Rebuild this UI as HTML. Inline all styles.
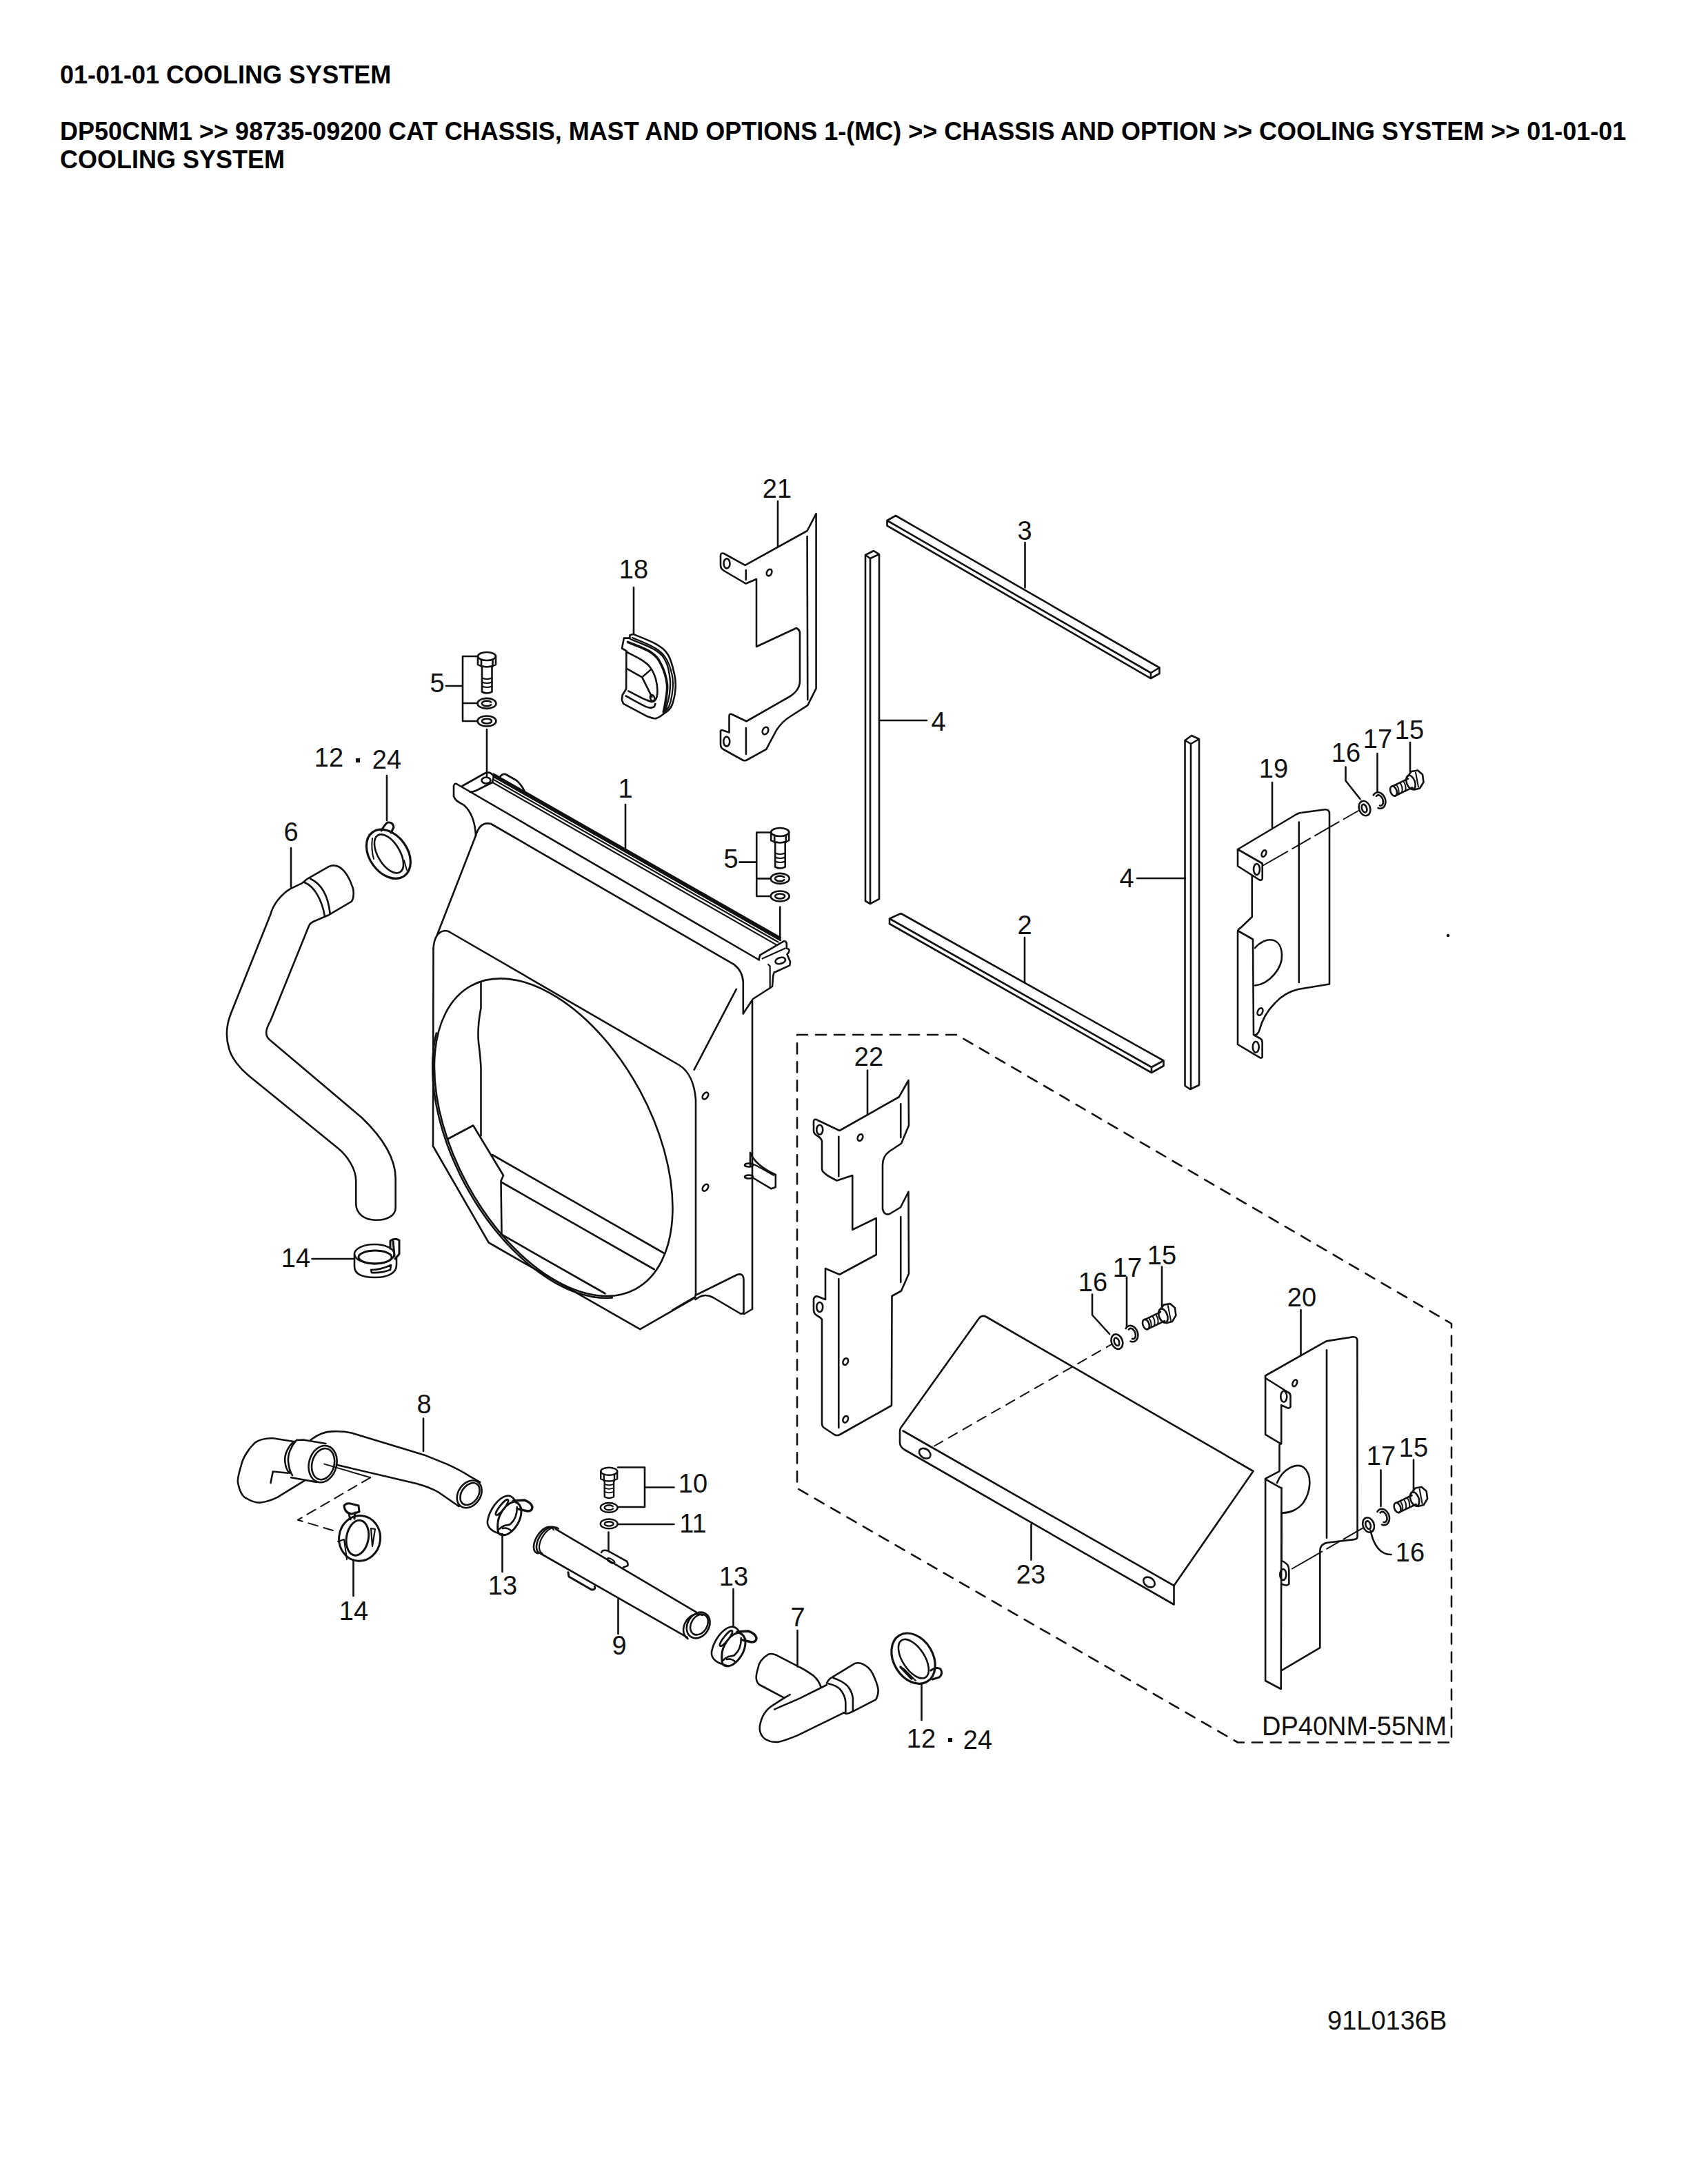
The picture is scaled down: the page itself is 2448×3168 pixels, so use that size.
<!DOCTYPE html>
<html><head><meta charset="utf-8">
<style>
html,body{margin:0;padding:0;background:#fff;}
body{width:2448px;height:3168px;position:relative;overflow:hidden;font-family:"Liberation Sans",sans-serif;}
.h{position:absolute;left:87px;font-weight:bold;font-size:36px;color:#000;white-space:nowrap;line-height:41px;}
svg{position:absolute;left:0;top:0;}
</style></head><body>
<div class="h" style="top:88px;">01-01-01 COOLING SYSTEM</div>
<div class="h" style="top:170px;">DP50CNM1 &gt;&gt; 98735-09200 CAT CHASSIS, MAST AND OPTIONS 1-(MC) &gt;&gt; CHASSIS AND OPTION &gt;&gt; COOLING SYSTEM &gt;&gt; 01-01-01<br>COOLING SYSTEM</div>
<svg width="2448" height="3168" viewBox="0 0 2448 3168" fill="none" stroke="#111" stroke-width="2.6" stroke-linejoin="round" stroke-linecap="round">
<!-- 00_labels.svg -->
<g fill="#111" stroke="none" font-family="'Liberation Sans', sans-serif" font-size="38" text-anchor="middle">
<text x="1127" y="722">21</text>
<text x="919" y="839">18</text>
<text x="1486" y="783">3</text>
<text x="634" y="1004">5</text>
<text x="1361" y="1060">4</text>
<text x="422" y="1220">6</text>
<text x="907" y="1157">1</text>
<text x="1060" y="1259">5</text>
<text x="1847" y="1128">19</text>
<text x="1952" y="1105">16</text>
<text x="1998" y="1085">17</text>
<text x="2044" y="1072">15</text>
<text x="1634" y="1287">4</text>
<text x="1486" y="1355">2</text>
<text x="1260" y="1546">22</text>
<text x="429" y="1838">14</text>
<text x="1585" y="1873">16</text>
<text x="1635" y="1852">17</text>
<text x="1685" y="1834">15</text>
<text x="1888" y="1895">20</text>
<text x="615" y="2050">8</text>
<text x="1005" y="2165">10</text>
<text x="2003" y="2125">17</text>
<text x="2050" y="2113">15</text>
<text x="1005" y="2223">11</text>
<text x="729" y="2313">13</text>
<text x="1064" y="2300">13</text>
<text x="513" y="2350">14</text>
<text x="2045" y="2265">16</text>
<text x="1495" y="2297">23</text>
<text x="898" y="2400">9</text>
<text x="1157" y="2359">7</text>
<text x="1336" y="2535">12</text>
<text x="1418" y="2537">24</text>
<text x="477" y="1112">12</text>
<text x="561" y="1115">24</text>
<text x="1830" y="2517" text-anchor="start">DP40NM-55NM</text>
<text x="1925" y="2944" text-anchor="start">91L0136B</text>
<rect x="516" y="1100" width="6" height="6"/>
<rect x="1375" y="2521" width="6" height="6"/>
</g>

<!-- 01_dashbox.svg -->
<path d="M1156,1501 L1387.5,1501 L2105,1920 L2105,2527.5 L1795,2527.5 L1156,2158.75 Z" stroke-dasharray="15 12"/>

<!-- 02_leaders.svg -->
<path d="M1128,727 V793 M919,852 V920 M1486.5,787 V852.5 M1275,1045 H1344 M1649,1274 H1719 M1486,1360 V1425 M907,1167 V1230 M422,1230 V1287 M561,1125 V1190 M1845,1135 V1200 M1951.5,1112.5 V1132.5 L1972.5,1159 M1997.5,1093 V1147.5 M2045,1077 V1120 M1258,1552.5 V1616 M452.5,1826 H512.5 M614,2057.5 V2105 M1886.5,1900 V1965 M1584,1877.5 V1907.5 L1609,1935 M1634,1852.5 V1925 M1685,1837.5 V1895 M2002.5,2132.5 V2185 M2050,2117.5 V2165 M1987.5,2220 Q1995,2255 2017.5,2255 M896,2128.5 H935 V2186 H896 M935,2157.5 H977.5 M896,2211 H977.5 M882.5,2222.5 V2250 M728.5,2225 V2280 M1063.5,2305 V2360 M512.5,2262.5 V2315 M896.5,2320 V2370 M1156.5,2365 V2417.5 M1336.5,2442.5 V2495 M1495.5,2211 V2262.5 M647,995 H671 M671,952 V1046 M671,952 H692 M671,1020 H692 M671,1046 H692 M706,1058 V1127 M1072.5,1250.6 H1097 M1097.25,1207.5 V1300 M1097.25,1207.5 H1117.5 M1097.25,1274.4 H1117.5 M1097.25,1300 H1117.5 M1131.25,1315.6 V1361"/>

<!-- 10_shroud.svg -->
<path d="M658,1155 L658,1140 Q659,1136 662,1137 L1101,1392.5"/>
<path d="M658,1155 C660,1162 667,1164 673,1168 C684,1178 689,1192 690,1212"/>
<path d="M690,1212 L634,1356"/>
<path d="M690,1212 Q696,1191 712,1195 L1063.9,1398.6 Q1077,1408 1077.8,1425 L1077.8,1470.5"/>
<path d="M628.5,1376 Q630,1352 645,1350 Q650,1350 653,1352.5 L985,1545 Q1006,1558 1009,1595 L1009,1879"/>
<path d="M628.5,1376 L628,1662.5 L708.75,1802.5 L928.3,1928.2 L1008.5,1882.2"/>
<path d="M975,1900 L1008.5,1880.5" stroke-width="2"/>
<path d="M1006.7,1551.6 L1067.8,1434.9"/>
<path d="M1091,1452 L1091,1899 L1079,1906"/>
<path d="M1008.5,1878.9 L1069,1849 Q1078.5,1846 1078.5,1857 L1078.5,1903 Q1077,1907 1073,1905 L1034,1882 Q1023,1876 1013,1882 L1008.5,1885"/>
<path d="M1100.4,1391.9 L1102.3,1385.4 L1136.9,1365.2 Q1140,1365 1140.8,1368 L1140.8,1375.6 L1144,1376.9 Q1146,1380 1141.4,1384.1 L1146,1395.1 L1145.3,1400.4 L1122.5,1410.8 L1121.2,1415.3 L1120,1431 L1092,1449 L1078,1470"/>
<path d="M1105.6,1390.6 L1138.8,1375.6 M1114.1,1399 L1116.7,1401.5 L1116.7,1433.5" stroke-width="2.2"/>
<ellipse cx="1131.7" cy="1393.5" rx="7.5" ry="4.5" transform="rotate(-15 1131.7 1393.5)"/>
<path d="M716,1123.1 L1131.7,1360.3 M716,1126.4 L1131.7,1363.6" stroke-width="3"/>
<path d="M716,1131 L1128.5,1366.5 M714,1134.8 L1125.8,1370.4" stroke-width="2.2"/>
<path d="M725,1127 Q728,1122 733,1123 L749,1132 Q756,1138 761,1148"/>
<path d="M670.6,1140 L702.5,1122 Q711,1118 716,1126 L714,1135 L690,1147 Q685,1149 681,1148.5"/>
<ellipse cx="705" cy="1132" rx="6.5" ry="4.5"/>
<ellipse cx="1023" cy="1589.5" rx="5.5" ry="3.5" transform="rotate(-55 1023 1589.5)"/>
<ellipse cx="1023" cy="1722.7" rx="5.5" ry="3.5" transform="rotate(-55 1023 1722.7)"/>
<path d="M1088,1690 L1088,1672 Q1095,1690 1124.8,1704 L1124.8,1722 L1118.6,1724.3 L1091,1708"/>
<path d="M1091,1688 Q1100,1692 1122,1705" stroke-width="2"/>
<ellipse cx="1086" cy="1690" rx="6" ry="2.5"/><ellipse cx="1086" cy="1707" rx="6" ry="2.5"/>
<ellipse cx="802.7" cy="1649.7" rx="250.2" ry="142.4" transform="rotate(61.6 802.7 1649.7)"/>
<path d="M887.8,1882.4 L881.8,1882.8 L875.6,1882.7 L869.4,1882.4 L863.1,1881.6 L856.6,1880.6 L850.1,1879.1 L843.5,1877.3 L836.9,1875.2 L830.2,1872.8 L823.5,1870.0 L816.7,1866.8 L809.9,1863.3 L803.1,1859.6 L796.3,1855.5 L789.5,1851.0 L782.7,1846.3 L775.9,1841.3 L769.2,1836.0 L762.5,1830.4 L755.9,1824.5 L749.4,1818.4 L742.9,1812.0 L736.6,1805.4 L730.3,1798.5 L724.2,1791.4 L718.1,1784.1 L712.2,1776.6 L706.4,1768.9 L700.8,1761.0 L695.3,1753.0 L690.0,1744.8 L684.9,1736.4 L679.9,1727.9 L675.1,1719.3 L670.5,1710.6 L666.1,1701.8 L662.0,1693.0 L658.0,1684.0 L654.2,1675.1 L650.7,1666.0 L647.4,1657.0 L644.4,1647.9 L641.5,1638.9 L639.0,1629.8 L636.6,1620.8 L634.6,1611.9 L632.7,1603.0 L631.2,1594.1 L629.9,1585.4 L628.8,1576.7 L628.0,1568.2 L627.5,1559.8 L627.3,1551.5 L627.3,1543.4 L627.5,1535.4 L628.1,1527.7 L628.9,1520.1 L630.0,1512.7 L631.3,1505.5 L632.9,1498.5"/>
<path d="M697.5,1426 L697.5,1462 Q692,1490 694,1512 Q697,1535 697.5,1550 L697.5,1647.5"/>
<path d="M648.75,1652.5 L686.25,1632.5 L730,1705 L726.5,1713 L727.5,1789"/>
<path d="M713.75,1675 L962.5,1817.5 M727.5,1715 L948.75,1841.25 M726.25,1790 L877.5,1876.25"/>
<!-- 20_bars.svg -->
<path d="M1286.5,755 L1299,748 L1681.5,968.5 L1681.5,977 L1669,984 L1286.5,762.5 Z M1286.5,755 L1669,976 L1669,984 M1669,976 L1681.5,968.5"/>
<path d="M1290,1332.5 L1306.5,1325 L1687.5,1538.5 L1687.5,1546 L1670,1556 L1290,1340 Z M1290,1332.5 L1670,1548 L1670,1556 M1670,1548 L1687.5,1538.5"/>
<path d="M1255,805 L1267,799 L1275,804 L1275,1304 L1262,1311 L1255,1307 Z M1255,805 L1262,810 L1275,804 M1262,810 L1262,1311"/>
<path d="M1718.5,1074 L1728,1067 L1739,1072 L1739,1574 L1726,1580 L1718.5,1575 Z M1718.5,1074 L1727,1079 L1739,1072 M1727,1079 L1727,1580"/>

<!-- 30_brackets.svg -->
<path d="M1045,806 Q1045,801 1050,803 L1080.6,819.8 L1170.6,770 L1183.6,745.2 L1183.6,998.7 L1171.25,1023.1 L1145,1040 Q1135,1046 1126.25,1058.75 L1111.25,1086.9 L1083,1102.5 Q1080,1104 1077,1102.5 L1050,1087.5 Q1045,1085 1045,1080 L1045,1060 Q1046,1058 1050,1060 L1057.5,1062.5 L1057.5,1038 Q1058,1035 1061,1036 L1082.5,1046.25 L1143.75,1011.25 Q1160,1002 1160,987.5 L1160,917 Q1159,913 1155,911 L1097,938 L1097,840 L1083,846 Q1081,847 1079,845 L1050,828 Q1045,825 1045,820 Z"/>
<path d="M1170.6,778 L1171.25,1015 M1081.8,827 L1081.8,841 M1081.9,1056 L1081.9,1094"/>
<ellipse cx="1115.6" cy="830.5" rx="3.5" ry="5" transform="rotate(25 1115.6 830.5)"/>
<ellipse cx="1054" cy="817.4" rx="4.5" ry="7"/>
<ellipse cx="1110" cy="1060" rx="4" ry="5.5" transform="rotate(25 1110 1060)"/>
<ellipse cx="1053.75" cy="1075.6" rx="4.5" ry="7"/>
<path d="M1180,1626 Q1181,1622 1186,1625 L1217.5,1640 L1303.75,1591.25 L1317.5,1567 L1318,1632.5 L1307,1658.75 L1290,1670 Q1280,1677 1280,1690 L1280,1753.75 Q1282,1763 1290,1761 L1306,1751.25 L1317.5,1728.75 L1318,1847.5 L1307,1872.5 L1293.5,1880 L1293,2038.75 L1217.5,2081.25 Q1214,2083 1210,2081 L1195,2071 Q1192,2069 1192,2065 L1192,1913.75 Q1190,1911 1186,1909 Q1180,1906 1180,1900 L1180,1884 Q1182,1879 1187,1881 L1197,1885 L1197,1840 L1217.5,1848.75 L1270.75,1820 L1270.75,1767 L1236.25,1783.75 L1236.25,1705 L1213.75,1712.5 Q1200,1706 1195,1701 Q1192,1699 1192,1695 L1192,1655 Q1190,1650 1186,1648 Q1180,1645 1180,1640 Z"/>
<path d="M1216.25,1648.75 V1706.25 M1306.25,1601.25 V1650 M1306.25,1765 V1860 M1216.25,1855 V2071"/>
<ellipse cx="1247.5" cy="1650" rx="3.5" ry="5" transform="rotate(25 1247.5 1650)"/>
<ellipse cx="1188.75" cy="1638.75" rx="4.5" ry="7"/>
<ellipse cx="1188.75" cy="1896" rx="4.5" ry="7"/>
<ellipse cx="1226.25" cy="1975" rx="3.5" ry="5" transform="rotate(25 1226.25 1975)"/>
<ellipse cx="1226.25" cy="2058.75" rx="3.5" ry="5" transform="rotate(25 1226.25 2058.75)"/>
<path d="M1795,1232 L1880,1181.25 Q1884,1179 1888,1178.75 L1921.25,1174.25 Q1928,1174 1928,1180 L1928,1427.5 L1882.5,1435 C1870,1438 1858,1445 1849,1455 C1838,1466 1830,1480 1826.25,1495 Q1824,1501 1818.75,1501.5 L1827.5,1506.25 Q1830.6,1508 1830.6,1512 L1830.6,1533.75 Q1829,1535 1827.5,1534.4 L1795,1515 L1795,1352.5 Q1795,1348 1799,1346 L1815.75,1330 L1815.75,1270"/>
<path d="M1795,1232 L1795,1256.25 L1826.25,1276.25 Q1830.75,1278 1830.75,1273 L1830.75,1252.5 Z"/>
<path d="M1795,1350 L1817,1362.5 L1818,1501"/>
<path d="M1820,1375 C1835,1358 1858,1358 1859,1385 C1860,1405 1840,1428 1820,1429.5"/>
<path d="M1883.75,1192.5 V1425"/>
<ellipse cx="1833" cy="1238" rx="3" ry="5" transform="rotate(25 1833 1238)"/>
<ellipse cx="1822.5" cy="1261" rx="4.5" ry="8"/>
<ellipse cx="1827.5" cy="1467.5" rx="3.5" ry="5.5" transform="rotate(25 1827.5 1467.5)"/>
<ellipse cx="1821.25" cy="1518.75" rx="4.5" ry="8"/>
<path d="M1832.5,1255 L1970,1176" stroke-width="2" stroke-dasharray="40 8 30 8"/>
<circle cx="2100" cy="1357" r="1" fill="#111"/>
<path d="M1835.1,1995.5 L1921.3,1946.7 Q1924,1945 1926.6,1944.9 L1962.2,1939.2 Q1968.4,1939 1968.4,1945 L1968.6,2229.3 Q1968,2233 1963.3,2233.1 L1924.7,2237.8 Q1914.3,2240 1914.3,2250 L1914.3,2390.2 L1859.3,2422.6"/>
<path d="M1835.1,1995.5 L1835.1,2080.8 L1857.3,2094.2 L1855.5,2096 L1855.5,2134.1 L1835.1,2144.8 L1835.1,2438 L1857.7,2450 L1858.5,2158"/>
<path d="M1835.1,1999 L1868,2019.5 Q1871.5,2021 1871.5,2025 L1871.5,2040.8 Q1870,2043 1868,2042.6 L1858.2,2038.2 L1858.2,2094.2"/>
<path d="M1835.1,2145.7 L1857.3,2158.1"/>
<path d="M1852,2151 C1860,2130 1880,2122 1890,2128 C1903,2138 1902,2162 1890,2180 C1882,2190 1870,2195 1858.5,2194.6"/>
<path d="M1858.5,2194.6 L1858.5,2263.9 Q1869.3,2268 1869.3,2277 L1869.3,2297.8 Q1867,2301 1858.5,2297.8"/>
<path d="M1924,1958.2 V2230.8"/>
<ellipse cx="1877.8" cy="2006.2" rx="3" ry="5" transform="rotate(25 1877.8 2006.2)"/>
<ellipse cx="1861.8" cy="2025.7" rx="4.5" ry="8"/>
<ellipse cx="1860.8" cy="2284" rx="4.5" ry="8"/>
<path d="M1873.9,2275.5 L1977.1,2216.2" stroke-width="2" stroke-dasharray="50 8 20 8"/>
<path d="M1306.25,2071.25 L1420,1912 Q1424,1907 1430,1910 L1817.5,2134 L1702.5,2300 L1702.5,2327.5 L1312,2103 Q1305,2099 1305,2092 L1305,2077 Q1305,2073 1306.25,2071.25 Z"/>
<path d="M1309.5,2075.5 L1702.5,2300"/>
<ellipse cx="1341.25" cy="2108.25" rx="6.5" ry="9" transform="rotate(-55 1341.25 2108.25)"/>
<ellipse cx="1666.5" cy="2295" rx="6.5" ry="9" transform="rotate(-55 1666.5 2295)"/>
<path d="M1355,2097.5 L1612,1950" stroke-width="2" stroke-dasharray="14 10"/>
<!-- 40_small.svg -->
<g transform="translate(1979.0,1172.5)"><ellipse cx="0" cy="0" rx="8" ry="11" transform="rotate(-20)"/><ellipse cx="-0.5" cy="0" rx="3.5" ry="6" transform="rotate(-20)"/><path d="M12.8,-19.0 L13.5,-20.2 L14.4,-21.2 L15.5,-22.1 L16.7,-22.7 L17.9,-23.1 L19.2,-23.2 L20.6,-23.1 L21.9,-22.7 L23.3,-22.1 L24.6,-21.3 L25.8,-20.3 L26.9,-19.1 L27.9,-17.7 L28.8,-16.2 L29.5,-14.6 L30.0,-12.9 L30.3,-11.2 L30.4,-9.5 L30.3,-7.9 L30.0,-6.3 L29.6,-4.8 L28.9,-3.5 L28.1,-2.4 L27.2,-1.4 L26.1,-0.7 L24.9,-0.1 L23.6,0.1 L22.2,0.2 L20.9,-0.0 L19.5,-0.5"/><path d="M17.0,-17.6 L17.6,-18.3 L18.3,-18.8 L19.1,-19.1 L19.9,-19.2 L20.8,-19.1 L21.7,-18.8 L22.6,-18.2 L23.5,-17.5 L24.3,-16.6 L25.0,-15.6 L25.7,-14.4 L26.2,-13.2 L26.6,-11.9 L26.8,-10.6 L26.9,-9.4 L26.9,-8.2 L26.7,-7.1 L26.3,-6.1 L25.8,-5.2 L25.2,-4.6 L24.5,-4.1 L23.7,-3.8 L22.9,-3.8 L22.0,-4.0"/><ellipse cx="42" cy="-25" rx="4.5" ry="7.5" transform="rotate(-20 42 -25)"/><path d="M40.5,-32 L63,-43 M44,-18 L69,-30"/><path d="M47,-33 Q51,-27 49,-20 M52,-36 Q56,-30 54,-23 M57,-38 Q61,-32 59,-25" stroke-width="2"/><path d="M62,-46 L68,-53.5 L77,-55 L84,-49 L85.5,-38 L80,-29 L72,-27 L66,-29"/><ellipse cx="67" cy="-37.6" rx="6" ry="10.5" transform="rotate(-20 67 -37.6)"/><path d="M74,-52 L78,-31" stroke-width="2"/></g>
<g transform="translate(1619.9,1946.1)"><ellipse cx="0" cy="0" rx="8" ry="11" transform="rotate(-20)"/><ellipse cx="-0.5" cy="0" rx="3.5" ry="6" transform="rotate(-20)"/><path d="M12.8,-19.0 L13.5,-20.2 L14.4,-21.2 L15.5,-22.1 L16.7,-22.7 L17.9,-23.1 L19.2,-23.2 L20.6,-23.1 L21.9,-22.7 L23.3,-22.1 L24.6,-21.3 L25.8,-20.3 L26.9,-19.1 L27.9,-17.7 L28.8,-16.2 L29.5,-14.6 L30.0,-12.9 L30.3,-11.2 L30.4,-9.5 L30.3,-7.9 L30.0,-6.3 L29.6,-4.8 L28.9,-3.5 L28.1,-2.4 L27.2,-1.4 L26.1,-0.7 L24.9,-0.1 L23.6,0.1 L22.2,0.2 L20.9,-0.0 L19.5,-0.5"/><path d="M17.0,-17.6 L17.6,-18.3 L18.3,-18.8 L19.1,-19.1 L19.9,-19.2 L20.8,-19.1 L21.7,-18.8 L22.6,-18.2 L23.5,-17.5 L24.3,-16.6 L25.0,-15.6 L25.7,-14.4 L26.2,-13.2 L26.6,-11.9 L26.8,-10.6 L26.9,-9.4 L26.9,-8.2 L26.7,-7.1 L26.3,-6.1 L25.8,-5.2 L25.2,-4.6 L24.5,-4.1 L23.7,-3.8 L22.9,-3.8 L22.0,-4.0"/><ellipse cx="42" cy="-25" rx="4.5" ry="7.5" transform="rotate(-20 42 -25)"/><path d="M40.5,-32 L63,-43 M44,-18 L69,-30"/><path d="M47,-33 Q51,-27 49,-20 M52,-36 Q56,-30 54,-23 M57,-38 Q61,-32 59,-25" stroke-width="2"/><path d="M62,-46 L68,-53.5 L77,-55 L84,-49 L85.5,-38 L80,-29 L72,-27 L66,-29"/><ellipse cx="67" cy="-37.6" rx="6" ry="10.5" transform="rotate(-20 67 -37.6)"/><path d="M74,-52 L78,-31" stroke-width="2"/></g>
<g transform="translate(1984.6,2212.0)"><ellipse cx="0" cy="0" rx="8" ry="11" transform="rotate(-20)"/><ellipse cx="-0.5" cy="0" rx="3.5" ry="6" transform="rotate(-20)"/><path d="M12.8,-19.0 L13.5,-20.2 L14.4,-21.2 L15.5,-22.1 L16.7,-22.7 L17.9,-23.1 L19.2,-23.2 L20.6,-23.1 L21.9,-22.7 L23.3,-22.1 L24.6,-21.3 L25.8,-20.3 L26.9,-19.1 L27.9,-17.7 L28.8,-16.2 L29.5,-14.6 L30.0,-12.9 L30.3,-11.2 L30.4,-9.5 L30.3,-7.9 L30.0,-6.3 L29.6,-4.8 L28.9,-3.5 L28.1,-2.4 L27.2,-1.4 L26.1,-0.7 L24.9,-0.1 L23.6,0.1 L22.2,0.2 L20.9,-0.0 L19.5,-0.5"/><path d="M17.0,-17.6 L17.6,-18.3 L18.3,-18.8 L19.1,-19.1 L19.9,-19.2 L20.8,-19.1 L21.7,-18.8 L22.6,-18.2 L23.5,-17.5 L24.3,-16.6 L25.0,-15.6 L25.7,-14.4 L26.2,-13.2 L26.6,-11.9 L26.8,-10.6 L26.9,-9.4 L26.9,-8.2 L26.7,-7.1 L26.3,-6.1 L25.8,-5.2 L25.2,-4.6 L24.5,-4.1 L23.7,-3.8 L22.9,-3.8 L22.0,-4.0"/><ellipse cx="42" cy="-25" rx="4.5" ry="7.5" transform="rotate(-20 42 -25)"/><path d="M40.5,-32 L63,-43 M44,-18 L69,-30"/><path d="M47,-33 Q51,-27 49,-20 M52,-36 Q56,-30 54,-23 M57,-38 Q61,-32 59,-25" stroke-width="2"/><path d="M62,-46 L68,-53.5 L77,-55 L84,-49 L85.5,-38 L80,-29 L72,-27 L66,-29"/><ellipse cx="67" cy="-37.6" rx="6" ry="10.5" transform="rotate(-20 67 -37.6)"/><path d="M74,-52 L78,-31" stroke-width="2"/></g>
<g transform="translate(706.0,1046.0) scale(1.00)"><ellipse cx="0" cy="0" rx="13.5" ry="7.5"/><ellipse cx="0" cy="0" rx="7" ry="3.5"/><ellipse cx="0" cy="-25.6" rx="13.5" ry="7.5"/><path d="M6.1,-23.7 L5.4,-23.2 L4.5,-22.7 L3.5,-22.3 L2.4,-22.0 L1.2,-21.9 L0.0,-21.8 L-1.2,-21.9 L-2.4,-22.0 L-3.5,-22.3 L-4.5,-22.7 L-5.4,-23.2 L-6.1,-23.7 L-6.6,-24.3 L-6.9,-24.9 L-7.0,-25.6 L-6.9,-26.3 L-6.6,-26.9 L-6.1,-27.5 L-5.4,-28.0 L-4.5,-28.5 L-3.5,-28.9 L-2.4,-29.2 L-1.2,-29.3 L-0.0,-29.4 L1.2,-29.3 L2.4,-29.2 L3.5,-28.9 L4.5,-28.5 L5.4,-28.0 L6.1,-27.5"/><path d="M-7,-78.0 L-7,-42.5 Q0,-38.5 7.5,-42.5 L7.5,-78.0"/><path d="M-7,-50.5 Q0,-47.5 7.5,-50.5" stroke-width="2"/><path d="M-7,-56.5 Q0,-53.5 7.5,-56.5" stroke-width="2"/><path d="M-7,-62.5 Q0,-59.5 7.5,-62.5" stroke-width="2"/><ellipse cx="0" cy="-94.0" rx="13" ry="6"/><path d="M-13,-94.0 L-13,-82.0 Q0,-75.0 13,-82.0 L13,-94.0 M-8,-89.0 L-8,-79.0 M8.5,-89.0 L8.5,-79.0"/></g>
<g transform="translate(1131.2,1300.0) scale(1.00)"><ellipse cx="0" cy="0" rx="13.5" ry="7.5"/><ellipse cx="0" cy="0" rx="7" ry="3.5"/><ellipse cx="0" cy="-25.6" rx="13.5" ry="7.5"/><path d="M6.1,-23.7 L5.4,-23.2 L4.5,-22.7 L3.5,-22.3 L2.4,-22.0 L1.2,-21.9 L0.0,-21.8 L-1.2,-21.9 L-2.4,-22.0 L-3.5,-22.3 L-4.5,-22.7 L-5.4,-23.2 L-6.1,-23.7 L-6.6,-24.3 L-6.9,-24.9 L-7.0,-25.6 L-6.9,-26.3 L-6.6,-26.9 L-6.1,-27.5 L-5.4,-28.0 L-4.5,-28.5 L-3.5,-28.9 L-2.4,-29.2 L-1.2,-29.3 L-0.0,-29.4 L1.2,-29.3 L2.4,-29.2 L3.5,-28.9 L4.5,-28.5 L5.4,-28.0 L6.1,-27.5"/><path d="M-7,-77.0 L-7,-42.5 Q0,-38.5 7.5,-42.5 L7.5,-77.0"/><path d="M-7,-50.5 Q0,-47.5 7.5,-50.5" stroke-width="2"/><path d="M-7,-56.5 Q0,-53.5 7.5,-56.5" stroke-width="2"/><path d="M-7,-62.5 Q0,-59.5 7.5,-62.5" stroke-width="2"/><ellipse cx="0" cy="-93.0" rx="13" ry="6"/><path d="M-13,-93.0 L-13,-81.0 Q0,-74.0 13,-81.0 L13,-93.0 M-8,-88.0 L-8,-78.0 M8.5,-88.0 L8.5,-78.0"/></g>
<g transform="translate(883.2,2210.4) scale(0.92)"><ellipse cx="0" cy="0" rx="13.5" ry="7.5"/><ellipse cx="0" cy="0" rx="7" ry="3.5"/><ellipse cx="0" cy="-25.6" rx="13.5" ry="7.5"/><path d="M6.1,-23.7 L5.4,-23.2 L4.5,-22.7 L3.5,-22.3 L2.4,-22.0 L1.2,-21.9 L0.0,-21.8 L-1.2,-21.9 L-2.4,-22.0 L-3.5,-22.3 L-4.5,-22.7 L-5.4,-23.2 L-6.1,-23.7 L-6.6,-24.3 L-6.9,-24.9 L-7.0,-25.6 L-6.9,-26.3 L-6.6,-26.9 L-6.1,-27.5 L-5.4,-28.0 L-4.5,-28.5 L-3.5,-28.9 L-2.4,-29.2 L-1.2,-29.3 L-0.0,-29.4 L1.2,-29.3 L2.4,-29.2 L3.5,-28.9 L4.5,-28.5 L5.4,-28.0 L6.1,-27.5"/><path d="M-7,-66.8 L-7,-42.5 Q0,-38.5 7.5,-42.5 L7.5,-66.8"/><path d="M-7,-50.5 Q0,-47.5 7.5,-50.5" stroke-width="2"/><path d="M-7,-56.5 Q0,-53.5 7.5,-56.5" stroke-width="2"/><path d="M-7,-62.5 Q0,-59.5 7.5,-62.5" stroke-width="2"/><ellipse cx="0" cy="-82.8" rx="13" ry="6"/><path d="M-13,-82.8 L-13,-70.8 Q0,-63.8 13,-70.8 L13,-82.8 M-8,-77.8 L-8,-67.8 M8.5,-77.8 L8.5,-67.8"/></g>
<ellipse cx="563.4" cy="1238.8" rx="39.2" ry="27.4" transform="rotate(54 563.4 1238.8)" stroke-width="3.2"/>
<ellipse cx="564" cy="1238.4" rx="31.2" ry="15.9" transform="rotate(59 564 1238.4)"/>
<path d="M553,1205 Q558,1196 562,1193 Q570,1192 571,1200 L567,1208" stroke-width="3"/>
<path d="M540,1216 Q538,1232 542,1246" stroke-width="2"/>
<path d="M586,1248 L590,1262" stroke-width="2"/>
<ellipse cx="1324.5" cy="2405.7" rx="39.1" ry="28.5" transform="rotate(59 1324.5 2405.7)" stroke-width="3.2"/>
<ellipse cx="1324.9" cy="2406.2" rx="32" ry="16" transform="rotate(57 1324.9 2406.2)"/>
<path d="M1306,2418 L1322,2435" stroke-width="3.5"/>
<path d="M1350,2423 Q1358,2417 1364,2421 Q1368,2428 1362,2433 L1352,2436" stroke-width="3"/>
<path d="M1310,2420 L1328,2438" stroke-width="2"/>
<path d="M514,1820 L514,1837 C514,1850 530,1853 544,1853 C560,1853 575,1848 575,1835 L575,1825"/>
<ellipse cx="543" cy="1819" rx="29" ry="14"/>
<ellipse cx="544" cy="1823.5" rx="24" ry="9.5" stroke-width="3"/>
<path d="M538,1842 Q552,1842 567,1835 L566,1842 Q552,1847 539,1846 Z"/>
<path d="M566,1811 L566,1800 Q572,1795 579,1799 L579,1819 L573,1826 M570,1800 L572,1822" stroke-width="3"/>
<ellipse cx="521.6" cy="2231.4" rx="29.95" ry="32.9" transform="rotate(6.4 521.6 2231.4)" stroke-width="3"/>
<ellipse cx="518.4" cy="2230.7" rx="15.9" ry="25.7" transform="rotate(10.4 518.4 2230.7)" stroke-width="3"/>
<path d="M499,2184 Q502,2180 508,2181 L520,2184 L521,2193 L510,2196 Q500,2195 499,2184 Z M506,2196 L508,2204 M515,2194 L514,2203" stroke-width="3"/>
<path d="M538,2217 L544,2218 L540,2243 Z" stroke-width="2.2"/>
<path d="M490,2236 L499,2233 L503,2262" stroke-width="2"/>
<g transform="translate(0.0,0.0)"><path d="M746,2175 C742,2170 738,2169 734,2170 C722,2173 710,2190 707,2206 C706,2214 712,2221 723,2224 L731.5,2227"/><path d="M746,2178 C752,2180 756,2185 756,2192 C756,2205 748,2218 737,2225 C731,2228 725,2227 723,2224 C721,2218 721,2205 725.5,2197 C730,2187 738,2180 746,2178 Z" stroke-width="3"/><path d="M749.8,2186 C750,2195 747,2205 740,2211 C736,2213 733,2212 731.5,2213 C727,2215 725,2217 724,2218"/><ellipse cx="728" cy="2186.5" rx="14" ry="3.5" transform="rotate(-52 728 2186.5)"/><path d="M744,2177 L760,2176 Q770,2179 772,2186 Q772,2192 765,2192 L752,2189" stroke-width="3.4"/><path d="M729,2217 Q735,2215 741,2220" stroke-width="2.4"/></g>
<g transform="translate(325.0,190.0)"><path d="M746,2175 C742,2170 738,2169 734,2170 C722,2173 710,2190 707,2206 C706,2214 712,2221 723,2224 L731.5,2227"/><path d="M746,2178 C752,2180 756,2185 756,2192 C756,2205 748,2218 737,2225 C731,2228 725,2227 723,2224 C721,2218 721,2205 725.5,2197 C730,2187 738,2180 746,2178 Z" stroke-width="3"/><path d="M749.8,2186 C750,2195 747,2205 740,2211 C736,2213 733,2212 731.5,2213 C727,2215 725,2217 724,2218"/><ellipse cx="728" cy="2186.5" rx="14" ry="3.5" transform="rotate(-52 728 2186.5)"/><path d="M744,2177 L760,2176 Q770,2179 772,2186 Q772,2192 765,2192 L752,2189" stroke-width="3.4"/><path d="M729,2217 Q735,2215 741,2220" stroke-width="2.4"/></g>
<!-- 50_hoses.svg -->
<path d="M420.9,1289.3 C408,1297 396,1312 392.4,1326.3 L334.9,1470 C327,1490 328,1508 332.3,1521.5 C336,1535 348,1550 361.5,1561 L490.4,1665.8 C503,1676 516,1695 516.2,1712 L516.2,1744.9 C516,1762 530,1770 545.4,1769.8 C560,1770 574,1764 573.7,1751.7 L573.7,1710.5 C574,1685 560,1655 524.7,1621.2 L392.5,1509.5 C384,1503 384,1495 392.5,1480.3 L447.9,1343.2 C450,1339 452,1338 454,1337 L475.6,1327.8 L509.5,1307.8 C514,1303 513,1290 511,1286.2 C505,1268 495,1256 484.8,1255.4 C481,1255 479,1256 477.1,1256.9 L444.8,1275.4 L438.6,1280.8 L420.9,1289.3 Z"/>
<path d="M441.7,1280 C456,1286 467,1305 471,1329.3 M450.2,1274.7 C466,1282 476,1300 478.7,1325.5"/>
<path d="M424.3,2090.7 L395.8,2086.3 C385,2086 375,2089 369.5,2092.9 C360,2102 352,2115 349.7,2125.8 C346,2138 344,2148 345.3,2152.1 C348,2165 352,2172 358.5,2174 C365,2178 372,2180 378.2,2179.5 C388,2178 396,2175 402.3,2171.8 L441.8,2147.7"/>
<path d="M395.8,2134.5 L417.7,2136.7 M395.8,2134.5 L392.5,2151"/>
<path d="M426.4,2090.7 C418,2098 412,2110 413.3,2120 C414,2128 416,2133 419.9,2136.7 M430,2089 C422,2098 417,2110 418,2120 C419,2130 421,2136 424,2140"/>
<path d="M430,2089 L439.6,2088.5 L472.5,2094 M422.1,2143.3 L459.3,2149.9"/>
<ellipse cx="468.1" cy="2123.6" rx="20" ry="27" transform="rotate(15 468.1 2123.6)"/>
<ellipse cx="468.6" cy="2123.6" rx="16" ry="23" transform="rotate(15 468.6 2123.6)"/>
<path d="M450.6,2088.5 C462,2080 472,2076 483.4,2076.4 C495,2076 503,2077 509.7,2078.6 L615,2110.4 L647.8,2123.6 C662,2130 673,2136 680.7,2141.1 L696.1,2149.9"/>
<path d="M487.8,2124.7 L604,2152.1 C618,2156 628,2160 636.9,2165.2 L665.4,2185"/>
<ellipse cx="680.7" cy="2167.4" rx="16" ry="21.5" transform="rotate(35 680.7 2167.4)"/>
<ellipse cx="681.5" cy="2167" rx="12" ry="17.5" transform="rotate(35 681.5 2167)"/>
<path d="M470.3,2123.6 L537.1,2143.3" stroke-width="2"/>
<path d="M537.1,2143.3 L431.9,2204.7 L490,2222.2" stroke-width="2" stroke-dasharray="14 9"/>
<path d="M806.4,2218.4 L1009.5,2338.3 M784,2253.5 L996.7,2375.1"/>
<path d="M780.5,2253.2 L779.0,2252.9 L777.7,2252.3 L776.6,2251.4 L775.6,2250.3 L774.9,2248.9 L774.4,2247.2 L774.1,2245.4 L774.0,2243.4 L774.2,2241.2 L774.6,2238.9 L775.2,2236.6 L776.1,2234.2 L777.1,2231.8 L778.4,2229.4 L779.8,2227.1 L781.3,2224.9 L783.0,2222.9 L784.7,2221.0 L786.6,2219.3 L788.4,2217.9 L790.3,2216.7 L792.1,2215.8 L793.9,2215.2 L795.7,2214.8 L797.3,2214.8 L798.8,2215.1 L800.1,2215.6 L801.3,2216.5 L802.3,2217.6 L803.0,2219.0"/>
<path d="M783.5,2253.0 L782.2,2252.5 L781.0,2251.8 L780.0,2250.8 L779.2,2249.6 L778.6,2248.1 L778.2,2246.5 L778.0,2244.7 L778.0,2242.7 L778.3,2240.6 L778.7,2238.4 L779.4,2236.1 L780.2,2233.8 L781.2,2231.6 L782.4,2229.3 L783.8,2227.1 L785.2,2225.0 L786.8,2223.1 L788.5,2221.3 L790.2,2219.6 L792.0,2218.2 L793.8,2217.0 L795.5,2216.1 L797.3,2215.4 L799.0,2214.9 L800.6,2214.8 L802.0,2214.9 L803.4,2215.3 L804.6,2215.9 L805.7,2216.8 L806.5,2218.0"/>
<path d="M786.5,2253.2 L785.4,2252.6 L784.4,2251.7 L783.5,2250.6 L782.9,2249.3 L782.4,2247.9 L782.1,2246.2 L782.0,2244.4 L782.1,2242.5 L782.4,2240.4 L782.9,2238.3 L783.5,2236.2 L784.3,2234.0 L785.3,2231.8 L786.5,2229.7 L787.8,2227.6 L789.1,2225.6 L790.6,2223.8 L792.2,2222.0 L793.9,2220.4 L795.5,2219.0 L797.2,2217.9 L798.9,2216.9 L800.6,2216.1 L802.2,2215.6 L803.8,2215.3 L805.3,2215.3 L806.6,2215.5 L807.9,2216.0 L809.0,2216.7 L809.9,2217.6" stroke-width="2.2"/>
<ellipse cx="1012.7" cy="2357.5" rx="15.5" ry="20" transform="rotate(32 1012.7 2357.5)"/>
<ellipse cx="1014" cy="2356.5" rx="11.5" ry="16" transform="rotate(32 1014 2356.5)"/>
<path d="M997.4,2377.0 L995.8,2375.7 L994.4,2374.3 L993.2,2372.5 L992.2,2370.6 L991.6,2368.5 L991.2,2366.2 L991.1,2363.8 L991.3,2361.4 L991.8,2358.9 L992.6,2356.5 L993.6,2354.1 L994.9,2351.8 L996.4,2349.6 L998.0,2347.7 L999.9,2345.9 L1001.9,2344.4 L1004.0,2343.2 L1006.2,2342.2 L1008.4,2341.5 L1010.6,2341.2 L1012.8,2341.2 L1014.8,2341.5 L1016.8,2342.1 L1018.6,2343.0"/>
<path d="M872,2252 Q874,2247 881.6,2249.6 L908.8,2264.7 Q911,2267 910.4,2271.1 L904,2273.5"/>
<path d="M824,2280.7 L825,2287 L858,2306 Q864,2306 862.4,2301.5" stroke-width="3"/>
<ellipse cx="886" cy="2264" rx="6" ry="2.5" transform="rotate(30 886 2264)" stroke-width="2"/>
<path d="M1125.5,2400.7 L1156.4,2416.7 C1168,2422 1176,2428 1180,2430.9 C1186,2436 1189,2442 1190.7,2447.5"/>
<path d="M1125.5,2400.7 C1120,2398 1115,2399 1113.7,2400.1 C1105,2405 1100,2413 1099.5,2419.1 C1097,2427 1096,2433 1097.1,2436.9 C1098,2440 1100,2443 1101.8,2444 L1137.4,2462.9 L1145.7,2458.2"/>
<path d="M1137.4,2462.9 L1120.8,2473.6 C1110,2480 1104,2490 1101.8,2504.4 C1101,2514 1106,2522 1113.7,2524.5 C1118,2527 1123,2527 1127.9,2526.9 C1135,2526 1145,2522 1156.4,2517.4 L1223.9,2484.3"/>
<path d="M1123.2,2479.5 C1135,2474 1148,2469 1161.1,2462.9 L1199,2444"/>
<path d="M1199,2441.6 C1201,2437 1203,2435 1206.1,2433.3 L1239.3,2413.2 C1242,2412 1246,2412 1250,2413.2 C1257,2416 1262,2421 1265.4,2427.4 C1270,2437 1273,2445 1273.6,2451.1 C1274,2458 1272,2462 1270.1,2465.3 L1238.1,2481.9 C1232,2485 1228,2486 1226.3,2485.5 L1223.9,2484.3"/>
<path d="M1201.4,2442.2 C1210,2444 1215,2447 1218,2449.9 C1223,2456 1226,2462 1226.3,2468.9 L1226.3,2483.1 M1208.5,2433.9 C1218,2437 1225,2441 1229.8,2446.4 C1234,2452 1236,2457 1236.9,2462.9 L1236.9,2481.9"/>
<path d="M913.4,921.3 L913.4,925.6 L904.9,925.6 L902.0,940.5 L908.4,944.1 L908.1,999.5 L902.7,1008.0  C902.6,1009.2 901.8,1013.0 902.0,1015.1 C902.3,1017.3 903.8,1019.9 904.2,1020.8 L939.0,1039.3 C941.0,1039.8 947.0,1042.9 951.1,1042.1 C955.1,1041.4 959.4,1038.0 963.2,1035.0 C966.9,1032.1 971.1,1030.3 973.8,1024.4 C976.5,1018.5 978.8,1007.2 979.5,999.5 C980.2,991.8 979.9,986.5 978.1,978.2 C976.3,969.9 973.3,957.1 968.8,949.8 C964.3,942.4 959.5,939.1 951.1,934.1 C942.7,929.1 923.8,922.3 918.4,919.9 Z"/>
<path d="M917.0,924.9 C922.4,927.4 941.6,934.9 949.7,939.8 C957.7,944.7 961.1,947.6 965.3,954.0 C969.4,960.4 972.8,970.6 974.5,978.2 C976.2,985.8 976.3,991.8 975.6,999.5 C974.9,1007.2 972.6,1018.7 970.3,1024.4 C968.0,1030.1 963.2,1032.1 961.7,1033.6" stroke-width="2.2"/>
<path d="M914.1,927.0 C920.3,929.7 942.4,937.8 951.1,943.4 C959.7,948.9 962.6,953.4 966.0,960.4 C969.4,967.4 970.9,977.6 971.7,985.3 C972.5,993.0 972.0,999.1 971.0,1006.6 C969.9,1014.1 966.2,1026.2 965.3,1030.1" stroke-width="2.4"/>
<path d="M910.6,931.3 C916.1,933.8 935.9,940.7 944.0,946.2 C952.0,951.6 955.0,956.3 958.9,964.0 C962.8,971.7 966.4,983.5 967.4,992.4 C968.5,1001.3 966.1,1010.6 965.3,1017.3 C964.5,1023.9 962.9,1029.7 962.4,1032.2" stroke-width="3.6"/>
<path d="M908.4,945.5 C912.0,947.4 924.1,953.2 929.8,956.9 C935.4,960.5 939.0,962.8 942.5,967.5 C946.1,972.3 949.3,978.8 951.1,985.3 C952.9,991.8 953.7,1001.3 953.2,1006.6 C952.7,1011.9 951.0,1015.8 948.2,1017.3 C945.5,1018.7 943.0,1017.6 936.9,1015.1 C930.7,1012.7 915.5,1004.5 911.3,1002.3"/>
<path d="M908.4,969.7 L931.2,982.4 L944.0,971.1 M931.2,982.4 L945.4,1010.9" />
<ellipse cx="946.1" cy="1012.3" rx="3" ry="4.5" transform="rotate(-20 946.1 1012.3)"/>
<path d="M907.7,1009.5 C912.6,1012.1 930.2,1022.4 936.9,1025.1 C943.5,1027.8 945.3,1026.5 947.5,1025.8 C949.8,1025.1 949.9,1021.7 950.4,1020.8"/>
</svg>
</body></html>
